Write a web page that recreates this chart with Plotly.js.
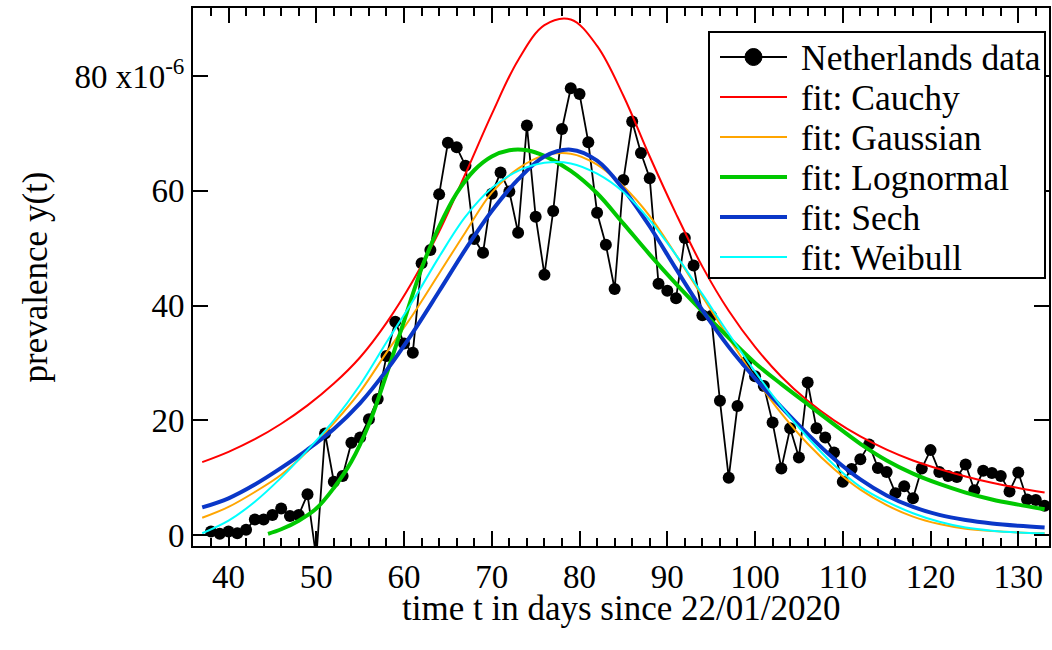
<!DOCTYPE html>
<html>
<head>
<meta charset="utf-8">
<script src="https://cdn.plot.ly/plotly-3.0.1.min.js"></script>
<style>
  html, body { margin: 0; padding: 0; background: #ffffff; }
  #chart { width: 1052px; height: 650px; }
</style>
</head>
<body>
<div id="chart"></div>
<script>
// ---------------- DATA ----------------
const dataDays = [38,39,40,41,42,43,44,45,46,47,48,49,50,51,52,53,54,55,56,57,58,59,60,61,62,63,64,65,66,67,68,69,70,71,72,73,74,75,76,77,78,79,80,81,82,83,84,85,86,87,88,89,90,91,92,93,94,95,96,97,98,99,100,101,102,103,104,105,106,107,108,109,110,111,112,113,114,115,116,117,118,119,120,121,122,123,124,125,126,127,128,129,130,131,132,133];
const dataPrev = [0.6,0.2,0.6,0.3,0.9,2.7,2.7,3.5,4.6,3.3,3.5,7.1,-4,17.7,9.3,10.3,16.1,17.0,20.2,23.7,31.2,37.2,33.4,31.8,47.4,49.7,59.4,68.4,67.6,64.4,51.6,49.2,59.5,63.2,59.9,52.7,71.4,55.5,45.4,56.5,70.8,77.9,76.9,68.5,56.2,50.6,42.9,61.9,72.1,66.6,62.2,43.8,42.6,41.3,51.8,47.0,38.3,38.2,23.4,10.0,22.5,30.2,27.7,26.0,19.6,11.6,18.6,13.5,26.6,18.6,17.0,14.4,9.3,11.5,13.2,15.8,11.7,11.0,7.3,8.5,6.4,11.6,14.8,11.0,10.3,10.1,12.3,7.8,11.2,10.8,10.3,7.6,10.9,6.2,6.1,5.1];

// fit curves, every 3 days
const fitDays = [37,40,43,46,49,52,55,58,61,64,67,70,73,76,79,82,85,88,91,94,97,100,103,106,109,112,115,118,121,124,127,130,133];
const cauchyV = [12.7,14.5,16.7,19.4,22.6,26.4,31.0,37.0,44.3,52.9,63.0,73.4,82.8,88.9,89.9,85.3,76.6,66.0,56.0,46.8,39.1,32.8,27.6,23.4,20.0,17.2,14.9,13.0,11.5,10.2,9.1,8.2,7.4];
const gaussV  = [3.0,4.9,7.5,10.5,14.6,19.5,25.0,31.8,38.4,45.6,52.8,59.7,63.9,66.2,66.5,64.6,60.8,55.6,48.8,41.6,34.4,27.4,21.2,15.9,11.5,7.9,5.2,3.2,1.9,1.1,0.7,0.45,0.3];
const sechV   = [4.8,6.4,8.8,11.7,14.9,18.5,23.0,28.7,35.3,42.5,49.8,56.5,62.0,66.0,67.2,65.3,60.3,53.8,46.4,39.2,32.8,27.3,22.3,17.6,13.3,9.7,6.9,4.9,3.5,2.6,2.0,1.6,1.3];
const weibV   = [0.3,2.5,5.8,10.0,14.8,20.0,26.2,33.6,40.8,48.5,55.5,60.5,63.5,64.9,64.8,63.0,59.8,54.9,48.8,42.0,35.1,28.5,22.4,17.0,12.2,8.4,5.8,3.8,2.3,1.3,0.75,0.45,0.3];
const lognDays = [44.5,46,48,50,52,54,56,58,60,62,64,66,68,70,72,74,76,79,82,85,88,91,94,97,100,103,106,109,112,115,118,121,124,127,130,133];
const lognV    = [0.2,1.0,2.5,4.6,8.2,12.8,19.3,28.0,37.3,46.5,53.8,59.6,63.6,66.0,67.1,67.1,66.1,63.5,59.6,54.3,48.9,43.8,39.0,34.4,30.0,26.3,22.8,19.3,15.9,13.0,10.7,8.9,7.4,6.2,5.3,4.5];

const xTickVals = [40,50,60,70,80,90,100,110,120,130];
const yTickVals = [0,20,40,60,80];
const yTickText = ['0','20','40','60','80 x10<sup>-6</sup>'];
const xTitle = 'time t in days since 22/01/2020';
const yTitle = 'prevalence y(t)';

const seriesNames = ['Netherlands data','fit: Cauchy','fit: Gaussian','fit: Lognormal','fit: Sech','fit: Weibull'];
const seriesColors = ['#000000','#ff0000','#ffa500','#00c800','#0a37c8','#00ffff'];
const seriesWidths = [1.8,2,2,4,4,2];

// ---------------- LAYOUT CONSTANTS ----------------
const W = 1052, H = 650;
const M = {l: 193, r: 3, t: 8, b: 104};
const PW = W - M.l - M.r, PH = H - M.t - M.b;
const px = x => (x - M.l) / PW;
const py = y => (H - M.b - y) / PH;
const FONT = 'Liberation Serif, Times New Roman, serif';

const curves = [[fitDays,cauchyV],[fitDays,gaussV],[lognDays,lognV],[fitDays,sechV],[fitDays,weibV]];

const traces = [{
  x: dataDays, y: dataPrev, type: 'scatter', mode: 'lines+markers',
  name: seriesNames[0], showlegend: false,
  line: {color: seriesColors[0], width: seriesWidths[0]},
  marker: {color: seriesColors[0], size: 12}
}];
curves.forEach((c, i) => {
  traces.push({
    x: c[0], y: c[1], type: 'scatter', mode: 'lines',
    name: seriesNames[i+1], showlegend: false,
    line: {color: seriesColors[i+1], width: seriesWidths[i+1], shape: 'spline', smoothing: 1}
  });
});

// manual legend (box, samples, labels)
const legBox = {x0: 709, x1: 1045, y0: 32, y1: 278};
const legRows = [57, 97, 137, 177, 217, 257];
const shapes = [{
  type: 'rect', xref: 'paper', yref: 'paper', layer: 'above',
  x0: px(legBox.x0), x1: px(legBox.x1), y0: py(legBox.y1), y1: py(legBox.y0),
  line: {color: '#000', width: 2}, fillcolor: '#ffffff'
}];
const annotations = [];
legRows.forEach((ry, i) => {
  shapes.push({
    type: 'line', xref: 'paper', yref: 'paper', layer: 'above',
    x0: px(720), x1: px(787), y0: py(ry), y1: py(ry),
    line: {color: seriesColors[i], width: i === 0 ? 2 : seriesWidths[i]}
  });
  annotations.push({
    xref: 'paper', yref: 'paper', x: px(799), y: py(ry + 1),
    xanchor: 'left', yanchor: 'middle', showarrow: false,
    text: seriesNames[i], font: {family: FONT, size: 35.5, color: '#000'}
  });
});
shapes.push({
  type: 'circle', xref: 'paper', yref: 'paper', layer: 'above',
  xsizemode: 'pixel', ysizemode: 'pixel',
  xanchor: px(753.5), yanchor: py(legRows[0]),
  x0: -8.5, x1: 8.5, y0: -8.5, y1: 8.5,
  fillcolor: '#000', line: {color: '#000', width: 1}
});
// x axis title, placed just under the tick labels
annotations.push({
  xref: 'paper', yref: 'paper', x: 0.5, y: py(608),
  xanchor: 'center', yanchor: 'middle', showarrow: false,
  text: xTitle, font: {family: FONT, size: 35, color: '#000'}
});

const axisCommon = {
  showline: true, linecolor: '#000', linewidth: 2, mirror: 'ticks',
  ticks: 'inside', ticklen: 15, tickwidth: 2, tickcolor: '#000',
  showgrid: false, zeroline: false,
  tickfont: {family: FONT, size: 33, color: '#000'}
};

const layout = {
  width: W, height: H, margin: M,
  paper_bgcolor: '#ffffff', plot_bgcolor: '#ffffff',
  showlegend: false,
  font: {family: FONT, color: '#000'},
  xaxis: Object.assign({}, axisCommon, {
    range: [35.95, 133.5], tickmode: 'array', tickvals: xTickVals,
    minor: {dtick: 2, tick0: 0, ticks: 'inside', ticklen: 8, tickwidth: 2, tickcolor: '#000', showgrid: false}
  }),
  yaxis: Object.assign({}, axisCommon, {
    range: [-1.92, 91.9], tickmode: 'array', tickvals: yTickVals, ticktext: yTickText,
    title: {text: yTitle, font: {family: FONT, size: 35, color: '#000'}, standoff: 16}
  }),
  shapes: shapes,
  annotations: annotations
};

Plotly.newPlot('chart', traces, layout, {displayModeBar: false, staticPlot: true});
</script>
</body>
</html>
